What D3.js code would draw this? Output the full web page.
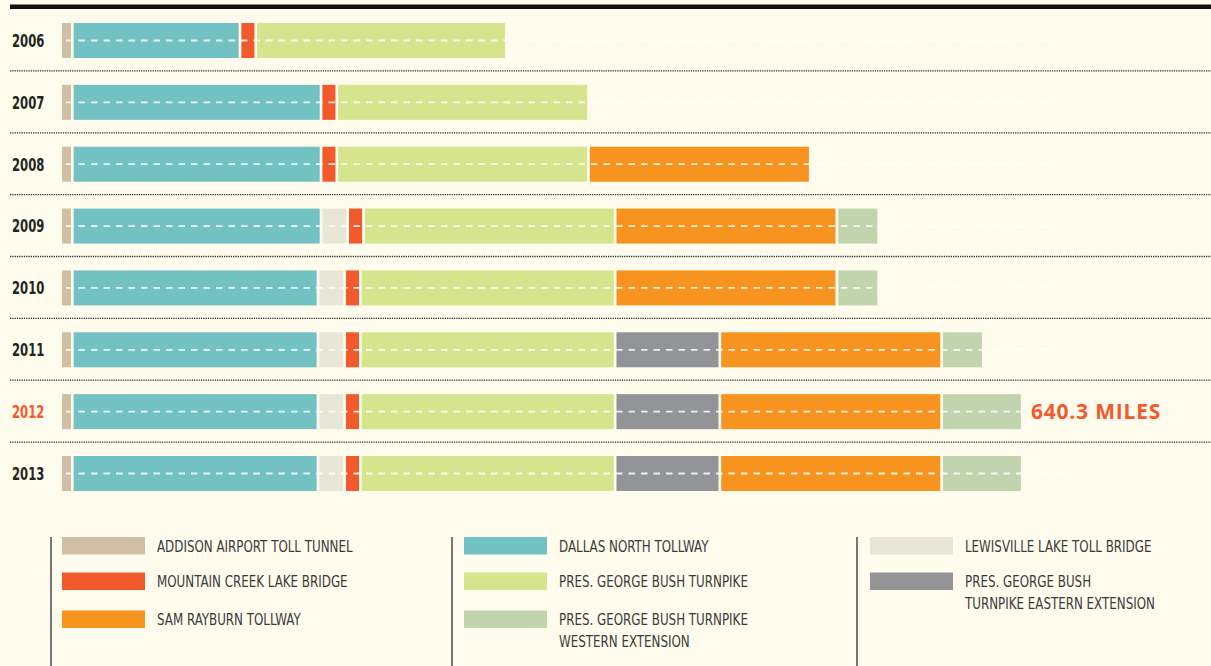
<!DOCTYPE html>
<html>
<head>
<meta charset="utf-8">
<script src="https://cdn.jsdelivr.net/npm/d3@7"></script>
<style>
  html, body { margin: 0; padding: 0; background: #fffbed; }
  svg { display: block; }
  .narrow { font-family: "Liberation Sans Narrow", "DejaVu Sans Condensed", sans-serif; }
</style>
</head>
<body>
<svg id="chart" width="1211" height="666"></svg>
<script>
// toll road miles by year, in stacking order
var years = ["2006", "2007", "2008", "2009", "2010", "2011", "2012", "2013"];
var addison       = [6.1, 6.1, 6.1, 6.1, 6.1, 6.1, 6.1, 6.1];
var dallasNorth   = [112.4, 167.6, 167.6, 167.6, 165.5, 165.5, 165.5, 165.5];
var lewisville    = [0, 0, 0, 16.3, 16.3, 16.3, 16.3, 16.3];
var mountainCreek = [8.9, 8.9, 8.9, 8.9, 8.9, 8.9, 8.9, 8.9];
var pgbt          = [168.9, 169.6, 169.6, 169.6, 171.7, 171.7, 171.7, 171.7];
var pgbtEastern   = [0, 0, 0, 0, 0, 69.5, 69.5, 69.5];
var samRayburn    = [0, 0, 149.2, 149.2, 149.2, 149.2, 149.2, 149.2];
var pgbtWestern   = [0, 0, 0, 26.6, 26.6, 26.6, 53.1, 53.1];

var roadNames = ["ADDISON AIRPORT TOLL TUNNEL", "DALLAS NORTH TOLLWAY", "LEWISVILLE LAKE TOLL BRIDGE",
  "MOUNTAIN CREEK LAKE BRIDGE", "PRES. GEORGE BUSH TURNPIKE", "PRES. GEORGE BUSH TURNPIKE EASTERN EXTENSION",
  "SAM RAYBURN TOLLWAY", "PRES. GEORGE BUSH TURNPIKE WESTERN EXTENSION"];
var roadColors = ["#cfbfa5", "#72c1c3", "#e8e6d7", "#f25a2c", "#d7e48e", "#939498", "#f7941f", "#c1d4ae"];
var roadValues = [addison, dallasNorth, lewisville, mountainCreek, pgbt, pgbtEastern, samRayburn, pgbtWestern];

// legend columns (index into roads, label lines)
var legendCols = [
  [[0, ["ADDISON AIRPORT TOLL TUNNEL"]], [3, ["MOUNTAIN CREEK LAKE BRIDGE"]], [6, ["SAM RAYBURN TOLLWAY"]]],
  [[1, ["DALLAS NORTH TOLLWAY"]], [4, ["PRES. GEORGE BUSH TURNPIKE"]], [7, ["PRES. GEORGE BUSH TURNPIKE", "WESTERN EXTENSION"]]],
  [[2, ["LEWISVILLE LAKE TOLL BRIDGE"]], [5, ["PRES. GEORGE BUSH", "TURNPIKE EASTERN EXTENSION"]]]
];
var highlightYear = "2012";
var highlightLabel = "640.3 MILES";

var svg = d3.select("#chart");
var barLeft = 62, barH = 35, gap = 2.7;

var x = d3.scaleLinear().domain([0, 640.3]).range([0, 940]);
var y = d3.scalePoint().domain(years).range([40.5, 473.5]);

// heavy rule on top
svg.append("rect").attr("x", 10).attr("y", 4.5).attr("width", 1201).attr("height", 4.5).attr("fill", "#111");

// dotted separators between rows
var step = y.step();
svg.selectAll("line.sep")
  .data(years.slice(0, -1))
  .enter().append("line")
  .attr("class", "sep")
  .attr("x1", 10).attr("x2", 1211)
  .attr("y1", function (d) { return y(d) + step / 2 - 0.5; })
  .attr("y2", function (d) { return y(d) + step / 2 - 0.5; })
  .attr("stroke", "#333").attr("stroke-width", 1.3).attr("stroke-dasharray", "1.3,1");

// build segments per year
var rows = years.map(function (yr, i) {
  var pos = barLeft, segs = [];
  roadValues.forEach(function (vals, r) {
    var v = vals[i];
    if (!v) return;
    if (segs.length) pos += gap;
    segs.push({ road: r, x0: pos, w: x(v) });
    pos += x(v);
  });
  return { year: yr, segs: segs, end: pos };
});

var row = svg.selectAll("g.row")
  .data(rows)
  .enter().append("g")
  .attr("class", "row")
  .attr("transform", function (d) { return "translate(0," + y(d.year) + ")"; });

row.selectAll("rect")
  .data(function (d) { return d.segs; })
  .enter().append("rect")
  .attr("x", function (d) { return d.x0; })
  .attr("y", -barH / 2)
  .attr("width", function (d) { return d.w; })
  .attr("height", barH)
  .attr("fill", function (d) { return roadColors[d.road]; });

// road centre line
row.append("line")
  .attr("x1", barLeft + 4).attr("x2", 1060)
  .attr("y1", 0).attr("y2", 0)
  .attr("stroke", "#fff").attr("stroke-opacity", 0.85)
  .attr("stroke-width", 1.8).attr("stroke-dasharray", "6.5,6");

row.append("text")
  .attr("class", "narrow year")
  .attr("x", 12).attr("y", 6.3)
  .attr("font-size", 17).attr("font-weight", "bold")
  .attr("fill", function (d) { return d.year === highlightYear ? "#f25a2c" : "#1e261e"; })
  .text(function (d) { return d.year; });

row.filter(function (d) { return d.year === highlightYear; })
  .append("text")
  .attr("x", function (d) { return d.end + 10; })
  .attr("y", 7.5)
  .attr("font-family", "'Open Sans', sans-serif")
  .attr("font-size", 21).attr("font-weight", 700)
  .attr("letter-spacing", 0.8)
  .attr("fill", "#f25a2c")
  .text(highlightLabel);

// legend
var colX = [51, 452, 857], rowY = [537, 572.5, 610.5];
legendCols.forEach(function (items, c) {
  var g = svg.append("g").attr("transform", "translate(" + colX[c] + ",0)");
  g.append("line").attr("x1", 0).attr("x2", 0).attr("y1", 537).attr("y2", 666)
    .attr("stroke", "#4a4a4a").attr("stroke-width", 1.5);
  items.forEach(function (it, k) {
    g.append("rect").attr("x", 11 + c).attr("y", rowY[k])
      .attr("width", 83).attr("height", 17.5).attr("fill", roadColors[it[0]]);
    it[1].forEach(function (line, j) {
      g.append("text")
        .attr("class", "narrow legend")
        .attr("x", 106 + c)
        .attr("y", rowY[k] + 14.5 + j * 21.5)
        .attr("font-size", 16.5)
        .attr("fill", "#3a3a3a")
        .text(line);
    });
  });
});

// squeeze labels to the condensed look of the original
function squeeze(sel, k) {
  sel.each(function () {
    var len = this.getComputedTextLength();
    this.setAttribute("textLength", len * k);
    this.setAttribute("lengthAdjust", "spacingAndGlyphs");
  });
}
squeeze(svg.selectAll("text.legend"), 0.8);
squeeze(svg.selectAll("text.year"), 0.76);
</script>
</body>
</html>
